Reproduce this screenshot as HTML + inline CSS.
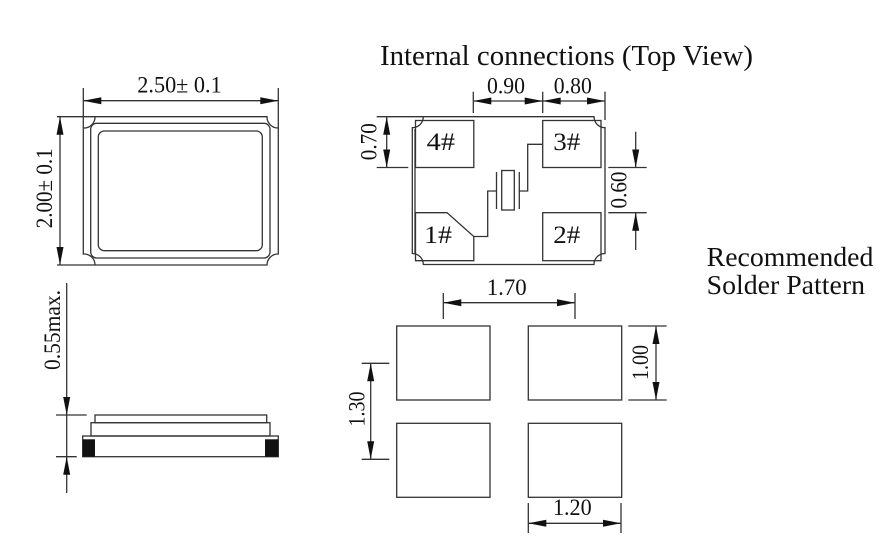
<!DOCTYPE html>
<html>
<head>
<meta charset="utf-8">
<style>
html,body{margin:0;padding:0;background:#fff;}
svg{display:block;}
text{font-family:"Liberation Serif","DejaVu Serif",serif;fill:#111;}
</style>
</head>
<body>
<svg width="895" height="547" viewBox="0 0 895 547" xmlns="http://www.w3.org/2000/svg">
<rect width="895" height="547" fill="#fff"/>
<g fill="none" stroke="#333" stroke-width="1.3">
  <!-- ===== Top-left package ===== -->
  <path d="M95 116.7 L267 116.7 A11 11 0 0 0 278.3 128 L278.3 254 A11 11 0 0 0 267 265 L95 265 A11 11 0 0 0 83.3 254 L83.3 128 A11 11 0 0 0 95 116.7 Z"/>
  <rect x="90.7" y="123.3" width="179.3" height="134.7" rx="6"/>
  <rect x="98.3" y="131" width="164" height="119.7" rx="6"/>
  <!-- 2.50 dim -->
  <line x1="83.3" y1="88" x2="83.3" y2="128"/>
  <line x1="278.3" y1="88" x2="278.3" y2="128"/>
  <line x1="83.3" y1="100.7" x2="278.3" y2="100.7"/>
  <!-- 2.00 dim -->
  <line x1="57" y1="116.7" x2="95" y2="116.7"/>
  <line x1="57" y1="265" x2="95" y2="265"/>
  <line x1="60" y1="116.7" x2="60" y2="265"/>

  <!-- ===== Side view ===== -->
  <line x1="66.7" y1="283" x2="66.7" y2="493"/>
  <line x1="56" y1="415" x2="86.7" y2="415"/>
  <line x1="56" y1="456.7" x2="76.7" y2="456.7"/>
  <rect x="95" y="415" width="171.7" height="7.7"/>
  <rect x="91" y="422.7" width="179" height="13.3"/>
  <rect x="82.7" y="436" width="195.6" height="20.7"/>

  <!-- ===== Top view ===== -->
  <path d="M423.3 116.7 L594 116.7 A11 11 0 0 0 605 127.7 L605 253.5 A11 11 0 0 0 594 264.5 L423.3 264.5 A11 11 0 0 0 412.3 253.5 L412.3 127.7 A11 11 0 0 0 423.3 116.7 Z"/>
  <line x1="415" y1="129" x2="415" y2="253"/>
  <rect x="415.5" y="120.5" width="58.3" height="47"/>
  <rect x="542.7" y="120.5" width="58.3" height="47"/>
  <rect x="542.7" y="212.7" width="58.3" height="48"/>
  <path d="M415.5 212.7 L447 212.7 L473.8 236.5 L473.8 260.7 L415.5 260.7 Z"/>
  <!-- crystal connection -->
  <polyline points="473.8,236.5 487.7,236.5 487.7,191 496.5,191"/>
  <line x1="496.5" y1="172" x2="496.5" y2="209"/>
  <rect x="501.7" y="170.5" width="12.6" height="39.5"/>
  <line x1="519.3" y1="172" x2="519.3" y2="209"/>
  <polyline points="519.3,191 527.7,191 527.7,144.3 542.7,144.3"/>
  <!-- 0.90 / 0.80 dims -->
  <line x1="473.3" y1="91.7" x2="473.3" y2="113"/>
  <line x1="542.7" y1="91.7" x2="542.7" y2="113"/>
  <line x1="605" y1="91.7" x2="605" y2="120"/>
  <line x1="473.3" y1="101" x2="605" y2="101"/>
  <!-- 0.70 dim -->
  <line x1="376.7" y1="116.7" x2="423.3" y2="116.7"/>
  <line x1="376.7" y1="167.5" x2="408.3" y2="167.5"/>
  <line x1="386.7" y1="116.7" x2="386.7" y2="167.5"/>
  <!-- 0.60 dim -->
  <line x1="608.3" y1="167.5" x2="646.7" y2="167.5"/>
  <line x1="608.3" y1="212.7" x2="646.7" y2="212.7"/>
  <line x1="635.7" y1="131.7" x2="635.7" y2="167.5"/>
  <line x1="635.7" y1="212.7" x2="635.7" y2="250"/>

  <!-- ===== Solder pattern ===== -->
  <rect x="396.7" y="326" width="93.3" height="74"/>
  <rect x="528.3" y="326" width="93.4" height="74"/>
  <rect x="396.7" y="423.3" width="93.3" height="74"/>
  <rect x="528.3" y="423.3" width="93.4" height="74"/>
  <!-- 1.70 -->
  <line x1="443.3" y1="293" x2="443.3" y2="319"/>
  <line x1="575" y1="293" x2="575" y2="319"/>
  <line x1="443.3" y1="302.7" x2="575" y2="302.7"/>
  <!-- 1.00 -->
  <line x1="628.3" y1="326" x2="666.7" y2="326"/>
  <line x1="628.3" y1="400" x2="666.7" y2="400"/>
  <line x1="656" y1="326" x2="656" y2="400"/>
  <!-- 1.30 -->
  <line x1="361.7" y1="363.3" x2="389.3" y2="363.3"/>
  <line x1="361.7" y1="459.3" x2="389.3" y2="459.3"/>
  <line x1="370.7" y1="363.3" x2="370.7" y2="459.3"/>
  <!-- 1.20 -->
  <line x1="528.3" y1="503" x2="528.3" y2="533"/>
  <line x1="621" y1="503" x2="621" y2="533"/>
  <line x1="528.3" y1="523.3" x2="621" y2="523.3"/>
</g>

<!-- side view terminals -->
<g fill="#111" stroke="none">
  <rect x="82.7" y="439.3" width="12.3" height="17.4"/>
  <rect x="265" y="439.3" width="13.3" height="17.4"/>
</g>

<!-- arrowheads -->
<g fill="#111" stroke="none">
  <polygon points="83.3,100.7 101.3,97.2 101.3,104.2"/>
  <polygon points="278.3,100.7 260.3,97.2 260.3,104.2"/>
  <polygon points="60,116.7 56.5,134.7 63.5,134.7"/>
  <polygon points="60,265 56.5,247 63.5,247"/>
  <polygon points="473.3,101 491.3,97.5 491.3,104.5"/>
  <polygon points="542.7,101 524.7,97.5 524.7,104.5"/>
  <polygon points="542.7,101 560.7,97.5 560.7,104.5"/>
  <polygon points="605,101 587,97.5 587,104.5"/>
  <polygon points="386.7,116.7 383.2,134.7 390.2,134.7"/>
  <polygon points="386.7,167.5 383.2,149.5 390.2,149.5"/>
  <polygon points="635.7,167.5 632.2,149.5 639.2,149.5"/>
  <polygon points="635.7,212.7 632.2,230.7 639.2,230.7"/>
  <polygon points="66.7,415 63.2,397 70.2,397"/>
  <polygon points="66.7,456.7 63.2,474.7 70.2,474.7"/>
  <polygon points="443.3,302.7 461.3,299.2 461.3,306.2"/>
  <polygon points="575,302.7 557,299.2 557,306.2"/>
  <polygon points="656,326 652.5,344 659.5,344"/>
  <polygon points="656,400 652.5,382 659.5,382"/>
  <polygon points="370.7,363.3 367.2,381.3 374.2,381.3"/>
  <polygon points="370.7,459.3 367.2,441.3 374.2,441.3"/>
  <polygon points="528.3,523.3 546.3,519.8 546.3,526.8"/>
  <polygon points="621,523.3 603,519.8 603,526.8"/>
</g>

<!-- text -->
<text x="380" y="65" font-size="28" textLength="373" lengthAdjust="spacingAndGlyphs">Internal connections (Top View)</text>
<text x="706.7" y="266" font-size="27" textLength="166.7" lengthAdjust="spacingAndGlyphs">Recommended</text>
<text x="706.7" y="294" font-size="27" textLength="158.3" lengthAdjust="spacingAndGlyphs">Solder Pattern</text>

<text x="137.3" y="92.7" font-size="23" textLength="84.4" lengthAdjust="spacingAndGlyphs">2.50± 0.1</text>
<text transform="translate(52,188.3) rotate(-90)" x="0" y="0" font-size="23" text-anchor="middle" textLength="80" lengthAdjust="spacingAndGlyphs">2.00± 0.1</text>
<text transform="translate(60,330) rotate(-90)" x="0" y="0" font-size="23" text-anchor="middle" textLength="80" lengthAdjust="spacingAndGlyphs">0.55max.</text>

<text x="506" y="93.3" font-size="23" text-anchor="middle" textLength="38" lengthAdjust="spacingAndGlyphs">0.90</text>
<text x="572.8" y="93.3" font-size="23" text-anchor="middle" textLength="38" lengthAdjust="spacingAndGlyphs">0.80</text>
<text transform="translate(376.3,141.7) rotate(-90)" x="0" y="0" font-size="23" text-anchor="middle" textLength="37" lengthAdjust="spacingAndGlyphs">0.70</text>
<text transform="translate(626.7,190) rotate(-90)" x="0" y="0" font-size="23" text-anchor="middle" textLength="37" lengthAdjust="spacingAndGlyphs">0.60</text>

<text x="426.7" y="150" font-size="25" textLength="28.3" lengthAdjust="spacingAndGlyphs">4#</text>
<text x="553.3" y="150" font-size="25" textLength="27" lengthAdjust="spacingAndGlyphs">3#</text>
<text x="424" y="243" font-size="25" textLength="28" lengthAdjust="spacingAndGlyphs">1#</text>
<text x="553.3" y="243" font-size="25" textLength="27" lengthAdjust="spacingAndGlyphs">2#</text>

<text x="506.7" y="295" font-size="23" text-anchor="middle" textLength="40" lengthAdjust="spacingAndGlyphs">1.70</text>
<text transform="translate(648,362.5) rotate(-90)" x="0" y="0" font-size="23" text-anchor="middle" textLength="35" lengthAdjust="spacingAndGlyphs">1.00</text>
<text transform="translate(364.3,409) rotate(-90)" x="0" y="0" font-size="23" text-anchor="middle" textLength="35" lengthAdjust="spacingAndGlyphs">1.30</text>
<text x="572.3" y="515" font-size="23" text-anchor="middle" textLength="38.7" lengthAdjust="spacingAndGlyphs">1.20</text>
</svg>
</body>
</html>
